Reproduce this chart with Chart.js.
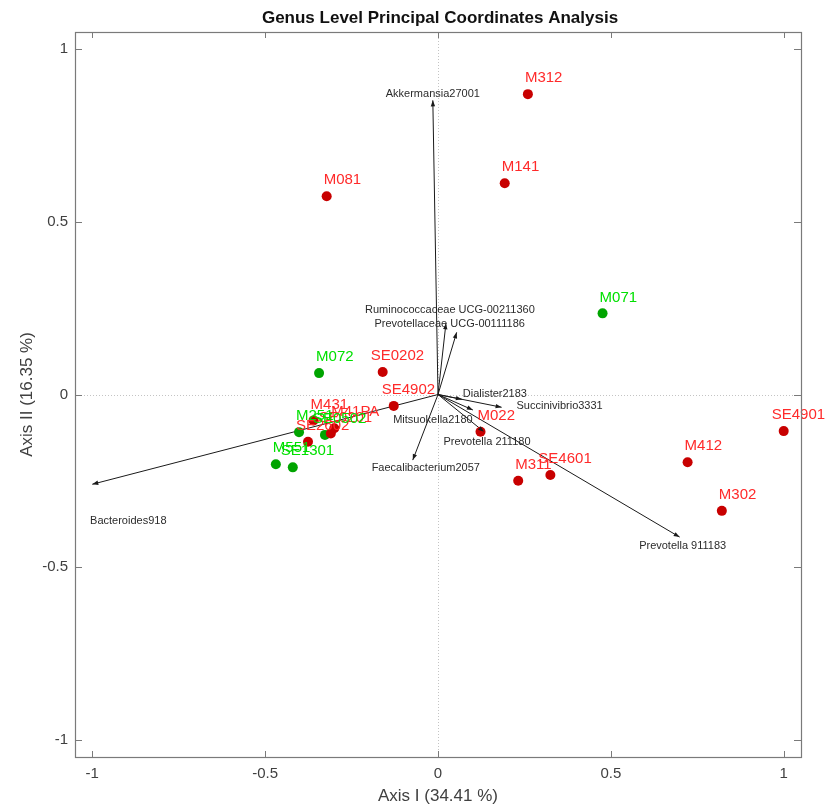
<!DOCTYPE html>
<html>
<head>
<meta charset="utf-8">
<script src="https://cdn.jsdelivr.net/npm/chart.js@4.4.1/dist/chart.umd.min.js"></script>
<style>
  html, body { margin: 0; padding: 0; background: #fff; }
  #wrap { width: 829px; height: 809px; }
</style>
</head>
<body>
<div id="wrap"><canvas id="pcoa" width="829" height="809"></canvas></div>
<script>
// Sample scores (red group)
const redNames = ['M312', 'M141', 'M081', 'SE0202', 'SE4902', 'M022', 'M311', 'SE4601', 'M412', 'M302', 'SE4901', 'M431', 'M41PA', 'SE0201', 'SE2602'];
const redX = [0.260, 0.193, -0.322, -0.160, -0.128, 0.123, 0.232, 0.325, 0.722, 0.821, 1.000, -0.360, -0.300, -0.310, -0.376];
const redY = [0.870, 0.612, 0.574, 0.065, -0.033, -0.108, -0.250, -0.233, -0.196, -0.337, -0.106, -0.075, -0.098, -0.113, -0.137];

// Sample scores (green group)
const greenNames = ['M072', 'M071', 'M251', 'SE0502', 'M551', 'SE1301'];
const greenX = [-0.344, 0.476, -0.402, -0.327, -0.469, -0.420];
const greenY = [0.062, 0.235, -0.109, -0.117, -0.202, -0.211];

// Genus vectors (biplot arrows)
const vecNames = ['Akkermansia27001', 'Ruminococcaceae UCG-00211360', 'Prevotellaceae UCG-00111186', 'Dialister2183', 'Succinivibrio3331', 'Mitsuokella2180', 'Prevotella 211180', 'Faecalibacterium2057', 'Bacteroides918', 'Prevotella 911183'];
const vecX = [-0.015, 0.023, 0.054, 0.069, 0.184, 0.101, 0.133, -0.073, -1.000, 0.699];
const vecY = [0.852, 0.206, 0.180, -0.014, -0.037, -0.045, -0.108, -0.190, -0.260, -0.413];

const tickValues = [-1, -0.5, 0, 0.5, 1];

// label nudges in pixels (layout only)
const vecLabelNudge = [[0, -6], [4, -13], [-7, -8], [33, -5], [58, -1], [-40, 10], [3, 10], [13, 8], [36, 37], [3, 9]];

const FONT = '"Liberation Sans", Arial, Helvetica, sans-serif';
const redDot = '#c80000', redText = '#ff2a2a';
const greenDot = '#00a400', greenText = '#00e000';

function pts(xs, ys) {
  return xs.map((v, i) => ({ x: v, y: ys[i] }));
}

const datasets = [
  { data: pts(redX, redY), names: redNames, textColor: redText, backgroundColor: redDot, pointRadius: 5, pointBorderWidth: 0, showLine: false },
  { data: pts(greenX, greenY), names: greenNames, textColor: greenText, backgroundColor: greenDot, pointRadius: 5, pointBorderWidth: 0, showLine: false }
];
vecNames.forEach((n, i) => {
  datasets.push({
    data: [{ x: 0, y: 0 }, { x: vecX[i], y: vecY[i] }],
    showLine: true,
    borderColor: '#1a1a1a',
    borderWidth: 1,
    pointRadius: 0
  });
});

const pcoaDecor = {
  id: 'pcoaDecor',
  beforeDatasetsDraw(chart) {
    const { ctx, chartArea: a, scales: { x, y } } = chart;
    ctx.save();
    ctx.strokeStyle = '#c4c4c4';
    ctx.lineWidth = 1;
    ctx.setLineDash([1, 2]);
    const x0 = Math.round(x.getPixelForValue(0)) + 0.5;
    const y0 = Math.round(y.getPixelForValue(0)) + 0.5;
    ctx.beginPath();
    ctx.moveTo(x0, a.top); ctx.lineTo(x0, a.bottom);
    ctx.moveTo(a.left, y0); ctx.lineTo(a.right, y0);
    ctx.stroke();
    ctx.restore();
  },
  afterDatasetsDraw(chart) {
    const { ctx, chartArea: a, scales: { x, y } } = chart;
    ctx.save();

    // arrowheads + vector labels
    const ox = x.getPixelForValue(0), oy = y.getPixelForValue(0);
    ctx.fillStyle = '#1a1a1a';
    vecNames.forEach((n, i) => {
      const tx = x.getPixelForValue(vecX[i]), ty = y.getPixelForValue(vecY[i]);
      const ang = Math.atan2(ty - oy, tx - ox);
      ctx.beginPath();
      ctx.moveTo(tx, ty);
      ctx.lineTo(tx - 6 * Math.cos(ang) + 2.2 * Math.sin(ang), ty - 6 * Math.sin(ang) - 2.2 * Math.cos(ang));
      ctx.lineTo(tx - 6 * Math.cos(ang) - 2.2 * Math.sin(ang), ty - 6 * Math.sin(ang) + 2.2 * Math.cos(ang));
      ctx.closePath();
      ctx.fill();
    });
    ctx.font = '11px ' + FONT;
    ctx.fillStyle = '#2b2b2b';
    ctx.textAlign = 'center';
    ctx.textBaseline = 'middle';
    vecNames.forEach((n, i) => {
      const tx = x.getPixelForValue(vecX[i]), ty = y.getPixelForValue(vecY[i]);
      ctx.fillText(n, tx + vecLabelNudge[i][0], ty + vecLabelNudge[i][1]);
    });

    // sample labels
    ctx.font = '15px ' + FONT;
    ctx.textAlign = 'left';
    chart.data.datasets.forEach(ds => {
      if (!ds.names) return;
      ctx.fillStyle = ds.textColor;
      ds.data.forEach((p, i) => {
        const px = x.getPixelForValue(p.x), py = y.getPixelForValue(p.y);
        const dx = ds.names[i].startsWith('SE') ? -12 : -3;
        ctx.fillText(ds.names[i], px + dx, py - 16);
      });
    });

    // frame
    ctx.strokeStyle = '#7a7a7a';
    ctx.lineWidth = 1.2;
    ctx.strokeRect(Math.round(a.left) + 0.5, Math.round(a.top) + 0.5, Math.round(a.right - a.left), Math.round(a.bottom - a.top));

    // inward ticks on all four sides
    ctx.lineWidth = 1;
    ctx.beginPath();
    tickValues.forEach(v => {
      const px = Math.round(x.getPixelForValue(v)) + 0.5;
      ctx.moveTo(px, a.bottom); ctx.lineTo(px, a.bottom - 6);
      ctx.moveTo(px, a.top); ctx.lineTo(px, a.top + 6);
      const py = Math.round(y.getPixelForValue(v)) + 0.5;
      ctx.moveTo(a.left, py); ctx.lineTo(a.left + 7, py);
      ctx.moveTo(a.right, py); ctx.lineTo(a.right - 7, py);
    });
    ctx.stroke();

    // title
    ctx.font = 'bold 17px ' + FONT;
    ctx.fillStyle = '#111';
    ctx.textAlign = 'center';
    ctx.textBaseline = 'middle';
    ctx.fillText('Genus Level Principal Coordinates Analysis', (a.left + a.right) / 2 + 2, 18);
    ctx.restore();
  }
};

new Chart(document.getElementById('pcoa'), {
  type: 'scatter',
  data: { datasets: datasets },
  options: {
    responsive: false,
    animation: false,
    devicePixelRatio: 1,
    layout: { autoPadding: false, padding: { top: 32, right: 28, left: 0, bottom: 0 } },
    plugins: { legend: { display: false }, tooltip: { enabled: false } },
    scales: {
      x: {
        type: 'linear',
        min: -1.05,
        max: 1.05,
        grid: { display: false, drawTicks: false },
        border: { display: false },
        afterBuildTicks: s => { s.ticks = tickValues.map(v => ({ value: v })); },
        afterFit: s => { s.height = 52; },
        ticks: { color: '#404040', font: { family: FONT, size: 15 }, padding: 8, maxRotation: 0, callback: v => String(v) },
        title: { display: true, text: 'Axis I (34.41 %)', color: '#404040', font: { family: FONT, size: 17 }, padding: { top: 0, bottom: 2 } }
      },
      y: {
        type: 'linear',
        min: -1.05,
        max: 1.05,
        grid: { display: false, drawTicks: false },
        border: { display: false },
        afterBuildTicks: s => { s.ticks = tickValues.map(v => ({ value: v })); },
        afterFit: s => { s.width = 75; },
        ticks: { color: '#404040', font: { family: FONT, size: 15 }, padding: 7, callback: v => String(v) },
        title: { display: true, text: 'Axis II (16.35 %)', color: '#404040', font: { family: FONT, size: 17 }, padding: { top: 17, bottom: 0 } }
      }
    }
  },
  plugins: [pcoaDecor]
});
</script>
</body>
</html>
